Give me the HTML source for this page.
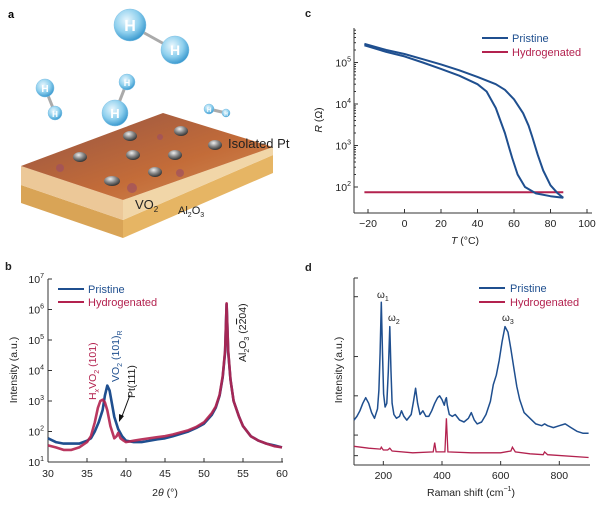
<!DOCTYPE html>
<html><head><meta charset="utf-8"><style>
body{margin:0;background:#fff;font-family:"Liberation Sans",sans-serif}
svg text{font-family:"Liberation Sans",sans-serif}
</style></head><body>
<svg id="fig" width="600" height="500" viewBox="0 0 600 500" xmlns="http://www.w3.org/2000/svg">
<defs>
<radialGradient id="hg" cx="0.4" cy="0.35" r="0.65"><stop offset="0" stop-color="#e8f6fd"/><stop offset="0.6" stop-color="#8fd0ee"/><stop offset="1" stop-color="#3d9bd0"/></radialGradient>
<radialGradient id="pg" cx="0.4" cy="0.3" r="0.7"><stop offset="0" stop-color="#eee"/><stop offset="0.5" stop-color="#888"/><stop offset="1" stop-color="#333"/></radialGradient>
<linearGradient id="topg" x1="0" y1="0" x2="1" y2="1"><stop offset="0" stop-color="#8e4a3a"/><stop offset="0.6" stop-color="#c0642e"/><stop offset="1" stop-color="#d08a4e"/></linearGradient>
</defs>
<!-- Panel a -->
<g>
<text x="8" y="18" font-size="11" font-weight="bold">a</text>
<polygon points="21,203 123,238 123,220 21,185" fill="#d9a456"/>
<polygon points="123,238 273,173 273,155 123,220" fill="#e6b564"/>
<polygon points="21,185 123,220 123,200 21,166" fill="#ecc898"/>
<polygon points="123,220 273,155 273,147 123,200" fill="#f1d6a8"/>
<polygon points="21,166 163,113 273,147 123,200" fill="url(#topg)" opacity="0.95"/>
<g fill="url(#pg)">
<ellipse cx="130" cy="136" rx="7" ry="5"/><ellipse cx="181" cy="131" rx="7" ry="5"/><ellipse cx="215" cy="145" rx="7" ry="5"/>
<ellipse cx="80" cy="157" rx="7" ry="5"/><ellipse cx="133" cy="155" rx="7" ry="5"/><ellipse cx="175" cy="155" rx="7" ry="5"/>
<ellipse cx="155" cy="172" rx="7" ry="5"/><ellipse cx="112" cy="181" rx="8" ry="5"/>
</g>
<g fill="#a05060" opacity="0.7"><circle cx="60" cy="168" r="4"/><circle cx="132" cy="188" r="5"/><circle cx="180" cy="173" r="4"/><circle cx="160" cy="137" r="3"/></g>
<text x="228" y="148" font-size="13" fill="#222">Isolated Pt</text>
<text x="135" y="209" font-size="13" fill="#222">VO<tspan font-size="8" dy="3">2</tspan></text>
<text x="178" y="214" font-size="11" fill="#222">Al<tspan font-size="7" dy="3">2</tspan><tspan dy="-3">O</tspan><tspan font-size="7" dy="3">3</tspan></text>
<g stroke="#aaa" stroke-width="3"><line x1="130" y1="25" x2="175" y2="50"/><line x1="45" y1="88" x2="55" y2="113"/><line x1="115" y1="113" x2="127" y2="82"/><line x1="209" y1="109" x2="226" y2="113"/></g>
<g fill="url(#hg)" stroke="#7fc0e4" stroke-width="0.5">
<circle cx="130" cy="25" r="16"/><circle cx="175" cy="50" r="14"/><circle cx="45" cy="88" r="9"/><circle cx="55" cy="113" r="7"/>
<circle cx="115" cy="113" r="13"/><circle cx="127" cy="82" r="8"/><circle cx="209" cy="109" r="5"/><circle cx="226" cy="113" r="4"/>
</g>
<g fill="#fff" font-weight="bold" text-anchor="middle">
<text x="130" y="31" font-size="16">H</text><text x="175" y="55" font-size="14">H</text><text x="45" y="92" font-size="10">H</text><text x="55" y="117" font-size="8">H</text>
<text x="115" y="118" font-size="13">H</text><text x="127" y="86" font-size="9">H</text><text x="209" y="112" font-size="6">H</text><text x="226" y="116" font-size="5">H</text>
</g>
</g>
<g id="charts"></g>
</svg>
<script>
// ---------- Panel c data ----------
const cUpT=[-22,-10,0,10,20,30,40,50,55,60,65,68,70,73,76,80,84,87];
const cUpR=[2.8e5,2.0e5,1.6e5,1.2e5,9e4,6.5e4,4.5e4,3e4,2.2e4,1.3e4,6e3,3e3,1.6e3,6e2,2.5e2,1.1e2,70,55];
const cDnT=[-22,-10,0,10,20,30,40,45,50,53,55,57,59,62,66,72,80,87];
const cDnR=[2.6e5,1.8e5,1.4e5,1.0e5,7e4,4.8e4,3e4,2e4,8e3,3.5e3,2e3,1e3,5e2,2e2,1e2,70,60,55];
const cHydT=[-22,87];
const cHydR=[75,75];
const cXTicks=[-20,0,20,40,60,80,100];
const cYTicks=[2,3,4,5];
// ---------- Panel b data ----------
const bPrisX=[30,31,32,33,34,35,35.5,36,36.5,37,37.3,37.6,37.9,38.2,38.5,39,39.5,40,41,42,44,45,46,48,49,50,51,51.5,52,52.4,52.7,52.9,53.1,53.4,53.8,54.5,55,56,57,58,59,60];
const bPrisY=[60,45,40,40,40,50,60,100,200,500,1500,3200,2200,800,300,120,70,50,45,45,55,60,70,100,130,180,350,600,1500,6000,40000,1.5e6,40000,5000,1000,300,150,70,50,40,35,30];
const bHydX=[30,31,32,33,34,35,35.5,36,36.4,36.7,37,37.3,37.6,38,38.5,38.8,39,39.3,39.7,40,41,42,44,45,46,48,49,50,51,51.5,52,52.4,52.7,52.9,53.1,53.4,53.8,54.5,55,56,57,58,59,60];
const bHydY=[35,30,25,25,30,45,70,200,600,1000,1100,900,500,150,60,70,90,60,50,45,50,55,65,70,80,110,140,200,400,650,1600,6500,45000,1.6e6,45000,5000,1000,300,150,70,50,40,33,30];
const bXTicks=[30,35,40,45,50,55,60];
const bYTicks=[1,2,3,4,5,6,7];
// ---------- Panel d data ----------
const dPrisX=[100,110,120,130,140,150,160,170,180,185,189,193,197,201,206,212,217,222,226,230,236,245,255,262,270,280,295,303,310,317,325,335,345,355,365,375,385,392,400,408,412,415,418,425,435,445,460,475,490,500,510,520,535,550,565,575,585,595,605,615,625,635,645,655,665,680,700,720,740,750,760,780,800,820,840,860,880,900];
const dPrisY=[24,26,29,33,36,33,28,25,30,40,60,87,60,38,31,33,50,74,50,33,27,25,26,29,26,24,27,34,41,33,27,29,26,26,29,33,36,37,35,32,35,36,32,27,26,27,24,23,25,28,24,22,23,27,34,43,48,56,66,74,71,62,52,42,35,28,25,22,21,22,21,20,21,22,20,18,17,17];
const dHydX=[100,150,190,193,200,215,222,230,300,370,375,380,410,415,420,500,600,635,640,650,700,745,750,760,900];
const dHydY=[10,9,8.5,9.5,8,8,9,7.5,6.5,7,12,7,7,25,7,6.5,6.5,7.5,9.5,7,6,5.5,7,5.5,4];
const dXTicks=[200,400,600,800];
const dYTicks=[5,16,37,58,90,100];

const NS='http://www.w3.org/2000/svg';
const root=document.getElementById('charts');
function mk(tag,attrs,parent){const e=document.createElementNS(NS,tag);for(const k in attrs)e.setAttribute(k,attrs[k]);(parent||root).appendChild(e);return e;}
function txt(x,y,s,size,anchor,parent,fill){const t=mk('text',{x:x,y:y,'font-size':size,'text-anchor':anchor||'middle',fill:fill||'#222'},parent);t.textContent=s;return t;}
function pathD(xs,ys,fx,fy){return xs.map((v,i)=>(i?'L':'M')+fx(v).toFixed(1)+','+fy(ys[i]).toFixed(1)).join('');}
const BLUE='#1f4f8f',RED='#b3224f';

// ===== Panel c =====
const cx=t=>404.5+(t-0)*1.825, cy=r=>187-(Math.log10(r)-2)*41.5;
const gc=mk('g',{});


txt(305,17,'c',11,'start',gc).setAttribute('font-weight','bold');
mk('line',{x1:354,y1:28,x2:354,y2:213,stroke:'#333','stroke-width':1},gc);
mk('line',{x1:354,y1:213,x2:592,y2:213,stroke:'#333','stroke-width':1},gc);
cXTicks.forEach(t=>{const x=cx(t);mk('line',{x1:x,y1:213,x2:x,y2:209,stroke:'#333'},gc);const l=txt(x,227,t<0?'\u221220':String(t),10.5,'middle',gc);});
cYTicks.forEach(p=>{const y=cy(Math.pow(10,p));mk('line',{x1:354,y1:y,x2:358,y2:y,stroke:'#333'},gc);const t=txt(351,y+4,'10',10.5,'end',gc);const s=mk('tspan',{'font-size':7,dy:-5},t);s.textContent=p;
 for(let k=2;k<10;k++){const yy=cy(Math.pow(10,p)*k);if(yy>30)mk('line',{x1:354,y1:yy,x2:356,y2:yy,stroke:'#333'},gc);}});
const cxl=txt(465,244,'',10.5,'middle',gc);cxl.innerHTML='<tspan font-style="italic">T</tspan> (°C)';

const cyl=txt(0,0,'',10.5,'middle',gc);cyl.innerHTML='<tspan font-style="italic">R</tspan> (Ω)';cyl.setAttribute('transform','translate(322,120) rotate(-90)');

let e=mk('path',{d:pathD(cHydT,cHydR,cx,cy),stroke:RED,'stroke-width':2,fill:'none'},gc);

e=mk('path',{d:pathD(cUpT,cUpR,cx,cy),stroke:BLUE,'stroke-width':2,fill:'none','stroke-linejoin':'round'},gc);

e=mk('path',{d:pathD(cDnT,cDnR,cx,cy),stroke:BLUE,'stroke-width':2,fill:'none','stroke-linejoin':'round'},gc);

mk('line',{x1:482,y1:38,x2:508,y2:38,stroke:BLUE,'stroke-width':2},gc);txt(512,42,'Pristine',11,'start',gc,BLUE);
mk('line',{x1:482,y1:52,x2:508,y2:52,stroke:RED,'stroke-width':2},gc);txt(512,56,'Hydrogenated',11,'start',gc,RED);

// ===== Panel b =====
const bx=v=>48+(v-30)*7.8, by=v=>462-(Math.log10(v)-1)*30.5;
const gb=mk('g',{});


txt(5,270,'b',11,'start',gb).setAttribute('font-weight','bold');
mk('line',{x1:48,y1:279,x2:48,y2:462,stroke:'#333','stroke-width':1},gb);
mk('line',{x1:48,y1:462,x2:283,y2:462,stroke:'#333','stroke-width':1},gb);
bXTicks.forEach(t=>{const x=bx(t);mk('line',{x1:x,y1:462,x2:x,y2:458,stroke:'#333'},gb);const l=txt(x,477,String(t),10.5,'middle',gb);});
bYTicks.forEach(p=>{const y=by(Math.pow(10,p));mk('line',{x1:48,y1:y,x2:52,y2:y,stroke:'#333'},gb);const t=txt(44,y+4,'10',10.5,'end',gb);const s=mk('tspan',{'font-size':7,dy:-5},t);s.textContent=p;});
const bxl=txt(165,496,'',10.5,'middle',gb);bxl.innerHTML='2<tspan font-style="italic">θ</tspan> (°)';

const byl=txt(0,0,'Intensity (a.u.)',10.5,'middle',gb);byl.setAttribute('transform','translate(17,370) rotate(-90)');

e=mk('path',{d:pathD(bPrisX,bPrisY,bx,by),stroke:BLUE,'stroke-width':2.6,fill:'none','stroke-linejoin':'round'},gb);

e=mk('path',{d:pathD(bHydX,bHydY,bx,by),stroke:RED,'stroke-width':2.6,fill:'none','stroke-linejoin':'round','stroke-opacity':0.9},gb);

mk('line',{x1:58,y1:289,x2:84,y2:289,stroke:BLUE,'stroke-width':2},gb);txt(88,293,'Pristine',11,'start',gb,BLUE);
mk('line',{x1:58,y1:302,x2:84,y2:302,stroke:RED,'stroke-width':2},gb);txt(88,306,'Hydrogenated',11,'start',gb,RED);
let a=txt(0,0,'',10.5,'start',gb,RED);a.innerHTML='H<tspan font-size="7" dy="3" font-style="italic">x</tspan><tspan dy="-3">VO</tspan><tspan font-size="7" dy="3">2</tspan><tspan dy="-3"> (101)</tspan>';a.setAttribute('transform','translate(96,400) rotate(-90)');
a=txt(0,0,'',10.5,'start',gb,BLUE);a.innerHTML='VO<tspan font-size="7" dy="3">2</tspan><tspan dy="-3"> (101)</tspan><tspan font-size="7" dy="3">R</tspan>';a.setAttribute('transform','translate(119,382) rotate(-90)');
a=txt(0,0,'Pt(111)',10.5,'start',gb);a.setAttribute('transform','translate(135,398) rotate(-90)');
mk('line',{x1:130,y1:395,x2:121,y2:419,stroke:'#111','stroke-width':1},gb);
mk('polygon',{points:'119,422 119,414 124,416',fill:'#111'},gb);
a=txt(0,0,'',10.5,'start',gb);a.innerHTML='Al<tspan font-size="7" dy="3">2</tspan><tspan dy="-3">O</tspan><tspan font-size="7" dy="3">3</tspan><tspan dy="-3"> (2</tspan><tspan text-decoration="overline">2</tspan>04)';a.setAttribute('transform','translate(246,362) rotate(-90)');

// ===== Panel d =====
const dx=v=>354+(v-100)*0.2933, dy=v=>465-v*1.87;
const gd=mk('g',{});


txt(305,271,'d',11,'start',gd).setAttribute('font-weight','bold');
mk('line',{x1:354,y1:278,x2:354,y2:465,stroke:'#333','stroke-width':1},gd);
mk('line',{x1:354,y1:465,x2:590,y2:465,stroke:'#333','stroke-width':1},gd);
dXTicks.forEach(t=>{const x=dx(t);mk('line',{x1:x,y1:465,x2:x,y2:461,stroke:'#333'},gd);const l=txt(x,479,String(t),10.5,'middle',gd);});
dYTicks.forEach(v=>{const y=dy(v);mk('line',{x1:354,y1:y,x2:358,y2:y,stroke:'#333'},gd);});
const dxl=txt(471,496,'',10.5,'middle',gd);dxl.innerHTML='Raman shift  (cm<tspan font-size="7" dy="-5">−1</tspan><tspan dy="5">)</tspan>';

const dyl=txt(0,0,'Intensity (a.u.)',10.5,'middle',gd);dyl.setAttribute('transform','translate(342,370) rotate(-90)');

e=mk('path',{d:pathD(dHydX,dHydY,dx,dy),stroke:RED,'stroke-width':1.3,fill:'none'},gd);

e=mk('path',{d:pathD(dPrisX,dPrisY,dx,dy),stroke:BLUE,'stroke-width':1.5,fill:'none','stroke-linejoin':'round'},gd);

mk('line',{x1:479,y1:288,x2:505,y2:288,stroke:BLUE,'stroke-width':2},gd);txt(510,292,'Pristine',11,'start',gd,BLUE);
mk('line',{x1:479,y1:302,x2:505,y2:302,stroke:RED,'stroke-width':2},gd);txt(510,306,'Hydrogenated',11,'start',gd,RED);
a=txt(377,298,'',10,'start',gd);a.innerHTML='ω<tspan font-size="7" dy="3">1</tspan>';
a=txt(388,321,'',10,'start',gd);a.innerHTML='ω<tspan font-size="7" dy="3">2</tspan>';
a=txt(502,321,'',10,'start',gd);a.innerHTML='ω<tspan font-size="7" dy="3">3</tspan>';
</script>
</body></html>
